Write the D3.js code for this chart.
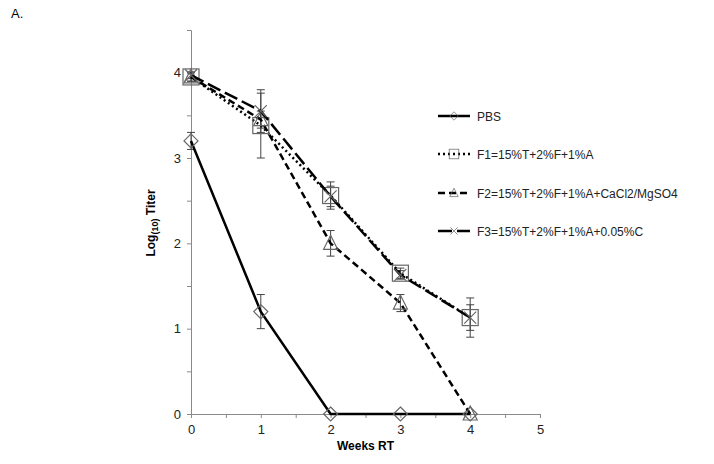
<!doctype html>
<html lang="en">
<head>
<meta charset="utf-8">
<title>Log titer vs weeks RT</title>
<style>
  body { margin: 0; background: #fff; }
  svg { font-family: "Liberation Sans", Arial, sans-serif; }
</style>
</head>
<body>
<svg id="svg" width="714" height="464"></svg>
<script src="https://cdn.jsdelivr.net/npm/d3@7"></script>
<script>
// data
var weeks = [0, 1, 2, 3, 4];
var seriesNames = ["PBS", "F1=15%T+2%F+1%A", "F2=15%T+2%F+1%A+CaCl2/MgSO4", "F3=15%T+2%F+1%A+0.05%C"];
var pbsVals = [3.2, 1.2, 0, 0, 0];
var pbsErr  = [0.1, 0.2, 0, 0, 0];
var f1Vals  = [3.95, 3.38, 2.56, 1.65, 1.13];
var f1Err   = [0.05, 0.38, 0.16, 0.06, 0.23];
var f2Vals  = [3.95, 3.45, 2.0, 1.3, 0];
var f2Err   = [0.05, 0.1, 0.15, 0.1, 0];
var f3Vals  = [3.97, 3.55, 2.55, 1.63, 1.13];
var f3Err   = [0.04, 0.25, 0.12, 0.05, 0.15];

var svg = d3.select("#svg");

var x = d3.scaleLinear().domain([0, 5]).range([191, 540]);
var y = d3.scaleLinear().domain([0, 4.5]).range([414, 30]);

svg.append("text").attr("x", 11).attr("y", 18).attr("font-size", 13).text("A.");

// axes
var axisColor = "#8a8a8a";
var xAxis = svg.append("g").attr("transform", "translate(0," + y(0) + ")")
  .call(d3.axisBottom(x).tickValues(d3.range(0, 5.01, 0.5)).tickSize(4).tickFormat(function(d){ return d % 1 === 0 ? d : ""; }));
var yAxis = svg.append("g").attr("transform", "translate(" + x(0) + ",0)")
  .call(d3.axisLeft(y).tickValues(d3.range(0, 4.51, 0.5)).tickSize(4).tickFormat(function(d){ return d % 1 === 0 && d <= 4 ? d : ""; }));
[xAxis, yAxis].forEach(function(a){
  a.select(".domain").attr("stroke", axisColor);
  a.selectAll(".tick line").attr("stroke", axisColor);
  a.selectAll(".tick text").attr("fill", "#222").attr("font-size", 13).attr("font-family", "Liberation Sans, Arial, sans-serif");
});
xAxis.selectAll(".tick text").attr("dy", "1.0em");
yAxis.selectAll(".tick text").attr("x", -10);

svg.append("text").attr("x", (x(0) + x(5)) / 2).attr("y", 450).attr("text-anchor", "middle")
  .attr("font-size", 12).attr("font-weight", "bold").text("Weeks RT");

var yl = svg.append("text").attr("transform", "translate(155,223) rotate(-90)")
  .attr("text-anchor", "middle").attr("font-size", 12).attr("font-weight", "bold");
yl.append("tspan").text("Log");
yl.append("tspan").attr("font-size", 9).attr("dy", 3).text("(10)");
yl.append("tspan").attr("dy", -3).text(" Titer");

var series = [
  { vals: pbsVals, err: pbsErr, dash: null, w: 2.5, marker: "diamond" },
  { vals: f1Vals, err: f1Err, dash: "2,3", w: 2.5, marker: "square" },
  { vals: f2Vals, err: f2Err, dash: "7,4", w: 2.5, marker: "triangle" },
  { vals: f3Vals, err: f3Err, dash: "14,5", w: 2.5, marker: "cross" }
];

var line = d3.line().x(function(d, i){ return x(weeks[i]); }).y(function(d){ return y(d); });

function drawMarker(g, type, cx, cy) {
  var s = g.append("g").attr("transform", "translate(" + cx + "," + cy + ")")
    .attr("fill", "none").attr("stroke", "#666").attr("stroke-width", 1.2);
  if (type === "diamond") s.append("path").attr("d", "M0,-7L7,0L0,7L-7,0Z");
  if (type === "square") s.append("rect").attr("x", -8).attr("y", -8).attr("width", 16).attr("height", 16);
  if (type === "triangle") s.append("path").attr("d", "M0,-8L7,6L-7,6Z");
  if (type === "cross") s.append("path").attr("d", "M-6,-6L6,6M-6,6L6,-6");
}

// error bars
series.forEach(function(s){
  var g = svg.append("g").attr("stroke", "#444").attr("stroke-width", 1);
  s.vals.forEach(function(v, i){
    if (!s.err[i]) return;
    var cx = x(weeks[i]);
    g.append("line").attr("x1", cx).attr("x2", cx).attr("y1", y(v - s.err[i])).attr("y2", y(v + s.err[i]));
    g.append("line").attr("x1", cx - 4).attr("x2", cx + 4).attr("y1", y(v - s.err[i])).attr("y2", y(v - s.err[i]));
    g.append("line").attr("x1", cx - 4).attr("x2", cx + 4).attr("y1", y(v + s.err[i])).attr("y2", y(v + s.err[i]));
  });
});

// lines and markers
series.forEach(function(s){
  svg.append("path").datum(s.vals).attr("d", line).attr("fill", "none")
    .attr("stroke", "#000").attr("stroke-width", s.w).attr("stroke-dasharray", s.dash);
  s.vals.forEach(function(v, i){ drawMarker(svg, s.marker, x(weeks[i]), y(v)); });
});

// legend
var legY = [116, 154, 193, 231];
series.forEach(function(s, i){
  var g = svg.append("g");
  g.append("line").attr("x1", 438).attr("x2", 470).attr("y1", legY[i]).attr("y2", legY[i])
    .attr("stroke", "#000").attr("stroke-width", s.w).attr("stroke-dasharray", s.dash);
  var m = g.append("g").attr("transform", "translate(454," + legY[i] + ") scale(0.6)");
  drawMarker(m, s.marker, 0, 0);
  g.append("text").attr("x", 477).attr("y", legY[i] + 4.5).attr("font-size", 12).attr("fill", "#222").text(seriesNames[i]);
});
</script>
</body>
</html>
